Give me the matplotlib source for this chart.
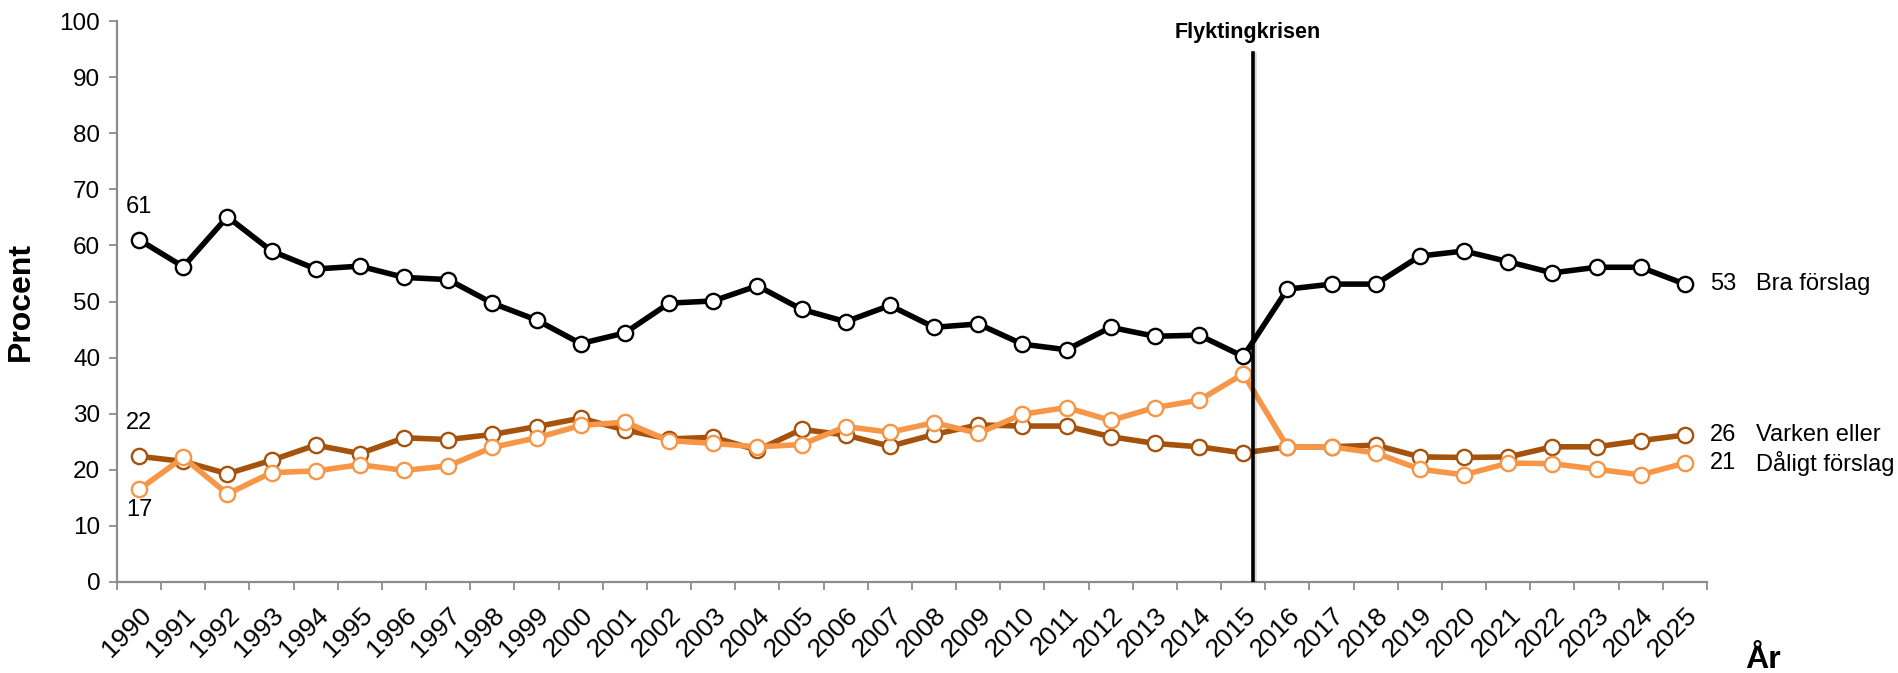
import matplotlib
matplotlib.use("Agg")
import matplotlib.pyplot as plt
import matplotlib.patheffects as pe
import numpy as np

plt.rcParams["font.family"] = ["Liberation Sans", "DejaVu Sans"]

# ---------- data ----------
years = [str(y) for y in range(1990, 2026)]

bra = [61, 56.2, 65.1, 59.0, 55.8, 56.3, 54.3, 53.9, 49.7, 46.7, 42.5, 44.4,
       49.7, 50.1, 52.8, 48.6, 46.4, 49.3, 45.4, 46.0, 42.4, 41.4, 45.4, 43.8,
       44.0, 40.2, 52.2, 53.1, 53.1, 58.1, 59.0, 57.1, 55.1, 56.1, 56.1, 53.1]
varken = [22.4, 21.5, 19.3, 21.7, 24.4, 22.9, 25.7, 25.4, 26.3, 27.7, 29.2, 27.1,
          25.5, 25.8, 23.5, 27.2, 26.2, 24.2, 26.3, 28.0, 27.8, 27.8, 25.9, 24.7,
          24.1, 23.0, 24.1, 24.1, 24.4, 22.3, 22.2, 22.3, 24.1, 24.1, 25.2, 26.2]
daligt = [16.5, 22.2, 15.7, 19.5, 19.8, 20.9, 19.9, 20.7, 24.0, 25.7, 27.9, 28.5,
          25.2, 24.7, 24.1, 24.5, 27.7, 26.7, 28.4, 26.5, 29.9, 31.1, 28.8, 31.1,
          32.4, 37.1, 24.1, 24.1, 23.0, 20.1, 19.1, 21.2, 21.1, 20.1, 19.1, 21.2]

series_names = ["Bra förslag", "Varken eller", "Dåligt förslag"]
end_labels = ["53", "26", "21"]
start_labels = ["61", "22", "17"]

crisis_label = "Flyktingkrisen"
crisis_pos = 25.22  # between 2015 and 2016

COLORS = {
    "bra": "#000000",
    "varken": "#A5520C",
    "daligt": "#F79646",
}
AXIS_GRAY = "#8c8c8c"

# ---------- figure ----------
fig = plt.figure(figsize=(18.99, 6.73), dpi=100)
ax = fig.add_axes([117 / 1899, 1 - 582 / 673, 1590 / 1899, 561 / 673])

x = np.arange(len(years))

line_kw = dict(marker="o", markersize=11, markerfacecolor="white",
               markeredgewidth=1.7, linewidth=4.0, solid_joinstyle="round")

ax.plot(x, varken, color=COLORS["varken"], markeredgecolor=COLORS["varken"],
        zorder=3, **line_kw)
ax.plot(x, daligt, color=COLORS["daligt"], markeredgecolor=COLORS["daligt"],
        zorder=4, **line_kw)
ax.plot(x, bra, color=COLORS["bra"], markeredgecolor=COLORS["bra"],
        zorder=5, **line_kw)

# crisis marker line
ax.axvline(crisis_pos, ymin=0, ymax=0.943, color="black", linewidth=2.6, zorder=6,
           path_effects=[pe.SimpleLineShadow(offset=(1.5, -1), alpha=0.15), pe.Normal()])
ax.text(crisis_pos - 0.12, 97.0, crisis_label, ha="center", va="baseline",
        fontsize=15.5, fontweight="bold", clip_on=False)

# start labels (1990)
ax.text(0, 66.9, start_labels[0], ha="center", va="center", fontsize=17)
ax.text(0, 28.3, start_labels[1], ha="center", va="center", fontsize=17)
ax.text(0, 12.8, start_labels[2], ha="center", va="center", fontsize=17)

# end labels (2025)
for vals, num, name in zip([bra, varken, daligt], end_labels, series_names):
    ax.annotate(num, xy=(x[-1], vals[-1]), xytext=(18, 0), textcoords="offset points",
                ha="left", va="center", fontsize=17, annotation_clip=False)
    ax.annotate(name, xy=(x[-1], vals[-1]), xytext=(51, 0), textcoords="offset points",
                ha="left", va="center", fontsize=17, annotation_clip=False)

# ---------- axes ----------
ax.set_xlim(-0.5, len(years) - 0.5)
ax.set_ylim(0, 100)
ax.set_yticks(np.arange(0, 101, 10))

ax.set_xticks(x)
ax.set_xticklabels(years, rotation=45, ha="right", va="top", rotation_mode="anchor")
ax.set_xticks(np.arange(-0.5, len(years)), minor=True)
ax.tick_params(axis="x", which="major", length=0, pad=15, labelsize=19)
ax.tick_params(axis="x", which="minor", length=6, width=1.3, color=AXIS_GRAY)
ax.tick_params(axis="y", length=6, width=1.3, color=AXIS_GRAY, labelsize=17.5, pad=6)

for side in ["top", "right"]:
    ax.spines[side].set_visible(False)
for side in ["left", "bottom"]:
    ax.spines[side].set_color(AXIS_GRAY)
    ax.spines[side].set_linewidth(1.6)

ax.set_ylabel("Procent", fontsize=23, fontweight="bold")
ax.yaxis.set_label_coords(-0.051, 0.5)
ax.text(1.035, -0.139, "År", transform=ax.transAxes, ha="center", va="center",
        fontsize=23, fontweight="bold")

fig.savefig("out.png", dpi=100, facecolor="white")
